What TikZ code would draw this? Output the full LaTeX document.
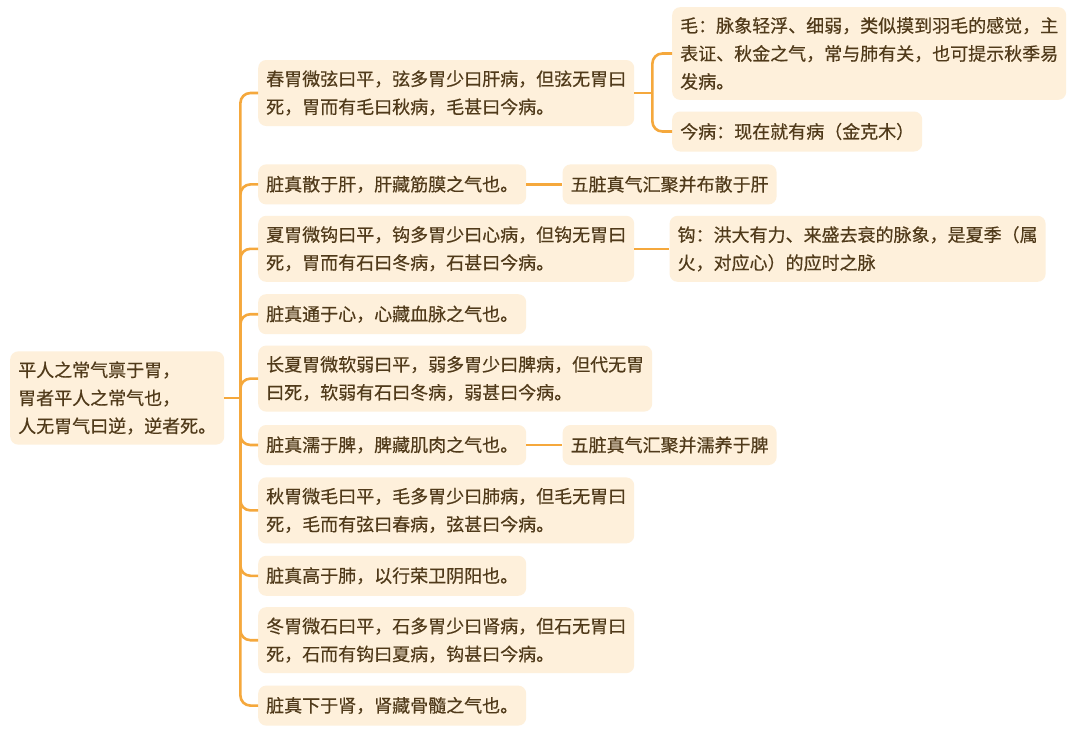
\documentclass[tikz,border=0pt]{standalone}
\usepackage{fontspec}
\usepackage{tikz}
\usetikzlibrary{positioning, calc}
\newfontfamily\cjkfont[FakeBold=0.4]{Noto Sans CJK SC}
\definecolor{mmline}{RGB}{245, 168, 60}
\definecolor{mmfill}{RGB}{254, 240, 219}
\definecolor{mmtext}{RGB}{80, 58, 26}

\begin{document}
\begin{tikzpicture}[
  x=1pt, y=-1pt,
  every node/.style={font=\cjkfont\fontsize{18}{28}\selectfont, text=mmtext},
  topic/.style={fill=mmfill, rounded corners=8pt, align=left,
                inner xsep=8pt, inner ysep=10pt, minimum height=40pt},
  twoline/.style={topic, minimum height=66pt},
  link/.style={draw=mmline, line width=2.6pt, rounded corners=10pt}
]
\useasboundingbox[fill=white] (0,0) rectangle (1080,731);

% ── Nodes ────────────────────────────────────────────────────────────────────
\node[topic, anchor=west, minimum height=92pt] (root) at (10,398)
  {平人之常气禀于胃，\\胃者平人之常气也，\\人无胃气曰逆，逆者死。};

\node[twoline, anchor=west] (spring) at (258,93)
  {春胃微弦曰平，弦多胃少曰肝病，但弦无胃曰\\死，胃而有毛曰秋病，毛甚曰今病。};
\node[topic, below=38pt of spring.south west, anchor=north west] (liver)
  {脏真散于肝，肝藏筋膜之气也。};
\node[twoline, below=11pt of liver.south west, anchor=north west] (summer)
  {夏胃微钩曰平，钩多胃少曰心病，但钩无胃曰\\死，胃而有石曰冬病，石甚曰今病。};
\node[topic, below=12pt of summer.south west, anchor=north west] (heart)
  {脏真通于心，心藏血脉之气也。};
\node[twoline, below=11pt of heart.south west, anchor=north west] (latesummer)
  {长夏胃微软弱曰平，弱多胃少曰脾病，但代无胃\\曰死，软弱有石曰冬病，弱甚曰今病。};
\node[topic, below=13pt of latesummer.south west, anchor=north west] (spleen)
  {脏真濡于脾，脾藏肌肉之气也。};
\node[twoline, below=12pt of spleen.south west, anchor=north west] (autumn)
  {秋胃微毛曰平，毛多胃少曰肺病，但毛无胃曰\\死，毛而有弦曰春病，弦甚曰今病。};
\node[topic, below=12pt of autumn.south west, anchor=north west] (lung)
  {脏真高于肺，以行荣卫阴阳也。};
\node[twoline, below=11pt of lung.south west, anchor=north west] (winter)
  {冬胃微石曰平，石多胃少曰肾病，但石无胃曰\\死，石而有钩曰夏病，钩甚曰今病。};
\node[topic, below=12pt of winter.south west, anchor=north west] (kidney)
  {脏真下于肾，肾藏骨髓之气也。};

% notes on the right
\node[topic, anchor=west, minimum height=92pt] (mao) at (672,53.5)
  {毛：脉象轻浮、细弱，类似摸到羽毛的感觉，主\\表证、秋金之气，常与肺有关，也可提示秋季易\\发病。};
\node[topic, anchor=west] (jinbing) at (672,131.5)
  {今病：现在就有病（金克木）};
\node[topic, right=36pt of liver] (liverqi)
  {五脏真气汇聚并布散于肝};
\node[twoline, right=35pt of summer] (gou)
  {钩：洪大有力、来盛去衰的脉象，是夏季（属\\火，对应心）的应时之脉};
\node[topic, right=36pt of spleen] (spleenqi)
  {五脏真气汇聚并濡养于脾};

% ── Connectors ───────────────────────────────────────────────────────────────
\coordinate (hub) at ($(root.east)+(16,0)$);
\coordinate (springhub) at ($(spring.east)+(18,0)$);

\draw[link] (root.east) -- (hub);
\foreach \n in {spring, liver, summer, heart, latesummer,
                spleen, autumn, lung, winter, kidney}
  \draw[link] (hub) |- (\n.west);

\draw[link] (spring.east) -- (springhub);
\draw[link] (springhub) |- (mao.west);
\draw[link] (springhub) |- (jinbing.west);

\draw[link] (liver.east) -- (liverqi.west);
\draw[link] (summer.east) -- (summer.east -| gou.west);
\draw[link] (spleen.east) -- (spleenqi.west);

\end{tikzpicture}
\end{document}
